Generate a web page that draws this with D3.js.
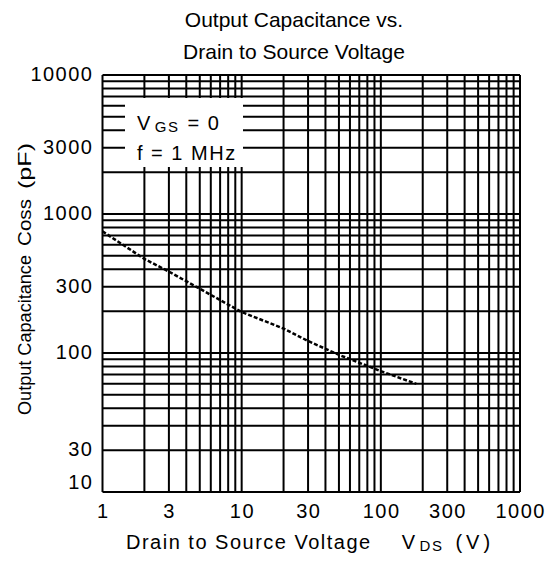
<!DOCTYPE html>
<html><head><meta charset="utf-8">
<script src="https://cdn.jsdelivr.net/npm/d3@7"></script>
<style>
html,body{margin:0;padding:0;background:#fff;}
text{font-family:"Liberation Sans",Arial,Helvetica,sans-serif;fill:#000;}
</style></head>
<body><svg id="c" width="549" height="561"></svg>
<script>
// ---- data ----
const voltage = [1, 2, 3, 5, 10, 20, 30, 50, 100, 180];
const capacitance = [750, 475, 385, 290, 197, 150, 122, 97, 74, 60];
const xTickValues = [1, 3, 10, 30, 100, 300, 1000];
const xTickLabels = ["1", "3", "10", "30", "100", "300", "1000"];
const yTickLabels = ["10", "30", "100", "300", "1000", "3000", "10000"];
const yTickAt = [10, 20, 100, 300, 1000, 3000, 10000]; // where the picture prints each label
const titleLines = ["Output Capacitance vs.", "Drain to Source Voltage"];

const svg = d3.select("#c");
const L = 102.5, R = 520, T = 75, B = 492;
const x = d3.scaleLog().domain([1, 1000]).range([L, R]);
const y = d3.scaleLog().domain([10, 10000]).range([B, T]);

// grid
const xGrid = [];
for (let d = 1; d < 1000; d *= 10) for (let k = 1; k <= 9; k++) xGrid.push(d * k);
xGrid.push(1000);
const yGrid = [];
for (let d = 10; d < 10000; d *= 10) for (let k = 1; k <= 9; k++) yGrid.push(d * k);
yGrid.push(10000);

const g = svg.append("g");
g.selectAll("line.v").data(xGrid).join("line")
  .attr("x1", d => x(d)).attr("x2", d => x(d)).attr("y1", T).attr("y2", B)
  .attr("stroke", "#000").attr("stroke-width", 2);
g.selectAll("line.h").data(yGrid).join("line")
  .attr("y1", d => y(d)).attr("y2", d => y(d)).attr("x1", L).attr("x2", R)
  .attr("stroke", "#000").attr("stroke-width", 2);

// legend box (white patch over grid)
svg.append("rect").attr("x", 125).attr("y", 98).attr("width", 118).attr("height", 69).attr("fill", "#fff");
const lg = svg.append("text").attr("x", 137).attr("y", 130).attr("font-size", 20).attr("letter-spacing", 1.5);
lg.append("tspan").text("V");
lg.append("tspan").attr("font-size", 15).attr("dx", 3).attr("dy", 2).text("GS");
lg.append("tspan").attr("dx", 1).attr("dy", -2).text(" = 0");
svg.append("text").attr("x", 137).attr("y", 160).attr("font-size", 20).attr("letter-spacing", 1.5).text("f = 1 MHz");

// curve
const line = d3.line().x((d, i) => x(voltage[i])).y(d => y(d));
svg.append("path").datum(capacitance).attr("d", line)
  .attr("fill", "none").attr("stroke", "#000").attr("stroke-width", 2.5)
  .attr("stroke-dasharray", "4,2");

// y tick labels
svg.selectAll("text.yt").data(yTickLabels).join("text")
  .attr("class", "yt")
  .attr("x", 93.5).attr("text-anchor", "end").attr("font-size", 20).attr("letter-spacing", 1.5)
  .attr("y", (d, i) => Math.min(y(yTickAt[i]), B - 9) + 6)
  .text(d => d);

// x tick labels
svg.selectAll("text.xt").data(xTickLabels).join("text")
  .attr("class", "xt")
  .attr("x", (d, i) => x(xTickValues[i]) + 0.75).attr("y", 518)
  .attr("text-anchor", "middle").attr("font-size", 20).attr("letter-spacing", 1.5)
  .text(d => d);

// titles
svg.selectAll("text.tt").data(titleLines).join("text")
  .attr("class", "tt")
  .attr("x", 294).attr("y", (d, i) => 27 + i * 32)
  .attr("text-anchor", "middle").attr("font-size", 21)
  .text(d => d);

// x axis label
const xl = svg.append("text").attr("x", 126).attr("y", 549).attr("font-size", 20).attr("letter-spacing", 1.5);
xl.append("tspan").text("Drain to Source Voltage");
xl.append("tspan").attr("dx", 30).text("V");
xl.append("tspan").attr("font-size", 15).attr("dx", 3).attr("dy", 2).text("DS");
xl.append("tspan").attr("dx", 12).attr("dy", -2).attr("letter-spacing", 4).text("(V)");

// y axis label
const yl = svg.append("g").attr("transform", "translate(31,415) rotate(-90)");
yl.append("text").attr("x", 0).attr("font-size", 18)
  .attr("textLength", 160).attr("lengthAdjust", "spacingAndGlyphs").text("Output Capacitance");
yl.append("text").attr("x", 169).attr("font-size", 18)
  .attr("textLength", 47).attr("lengthAdjust", "spacingAndGlyphs").text("Coss");
yl.append("text").attr("x", 226).attr("font-size", 18)
  .attr("textLength", 46).attr("lengthAdjust", "spacingAndGlyphs").text("(pF)");
</script></body></html>
